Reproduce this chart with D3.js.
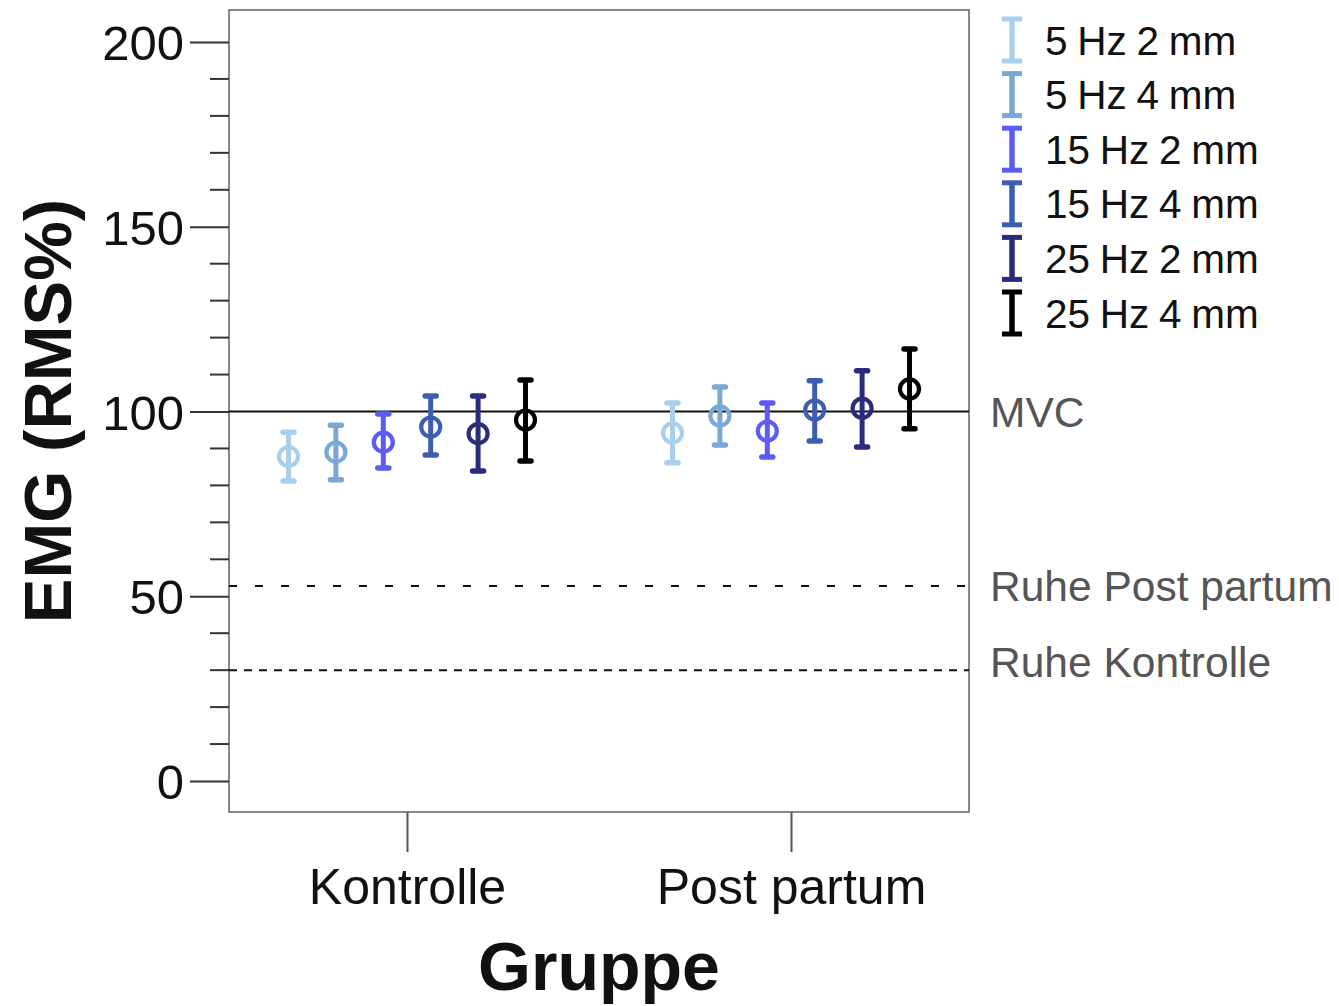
<!DOCTYPE html>
<html><head><meta charset="utf-8">
<script src="https://cdn.jsdelivr.net/npm/d3@7"></script>
<style>body{margin:0;background:#fff}svg{display:block}svg text{font-family:Arial,"Liberation Sans",sans-serif}</style>
</head><body><svg id="c" width="1339" height="1006"></svg>
<script>
const groups = ["Kontrolle", "Post partum"];
const series = ["5 Hz 2 mm", "5 Hz 4 mm", "15 Hz 2 mm", "15 Hz 4 mm", "25 Hz 2 mm", "25 Hz 4 mm"];
const colors = ["#a8d0ee", "#7aa8d6", "#5b5cf8", "#3b5eb2", "#292b7c", "#000000"];
const meanKontrolle  = [87.8, 89.0, 91.7, 95.8, 94.0, 97.7];
const upperKontrolle = [94.4, 96.3, 99.3, 104.2, 104.2, 108.5];
const lowerKontrolle = [81.2, 81.5, 84.7, 88.2, 83.9, 86.6];
const meanPost  = [94.2, 98.8, 94.7, 100.4, 100.9, 106.1];
const upperPost = [102.3, 106.6, 102.3, 108.3, 111.0, 116.9];
const lowerPost = [86.1, 90.9, 87.7, 92.0, 90.4, 95.3];
const yTicks = [0, 50, 100, 150, 200];
const refLines = [
  {label: "MVC", value: 100, dash: null},
  {label: "Ruhe Post partum", value: 52.8, dash: "8,18"},
  {label: "Ruhe Kontrolle", value: 30, dash: "8,7"}
];

const svg = d3.select("#c");
const FONT = 'Arial, "Liberation Sans", sans-serif';
const L = 229, R = 969, T = 10, B = 812;
const y = d3.scaleLinear().domain([0, 200]).range([781, 42]);
const x = d3.scalePoint().domain(groups).range([L, R]).padding(0.4635);
const xi = d3.scalePoint().domain(series).range([-118.5, 118.5]);

const data = [];
groups.forEach((g, gi) => {
  const m = gi === 0 ? meanKontrolle : meanPost;
  const u = gi === 0 ? upperKontrolle : upperPost;
  const lo = gi === 0 ? lowerKontrolle : lowerPost;
  series.forEach((s, si) => data.push({g, s, c: colors[si], m: m[si], u: u[si], l: lo[si]}));
});

// frame
svg.append("rect").attr("x", L).attr("y", T).attr("width", R - L).attr("height", B - T)
  .attr("fill", "none").attr("stroke", "#6a6a6a").attr("stroke-width", 1.6);

// y axis
const yAxis = d3.axisLeft(y).tickValues(yTicks).tickSize(39).tickPadding(6).tickFormat(d3.format("d"));
const gy = svg.append("g").attr("transform", `translate(${L},0)`).call(yAxis).attr("font-family", FONT);
gy.select(".domain").remove();
gy.selectAll(".tick line").attr("stroke", "#333").attr("stroke-width", 2);
gy.selectAll(".tick text").attr("font-size", 49).attr("fill", "#111").attr("dy", "0.36em");
const minor = d3.range(0, 201, 10).filter(v => v % 50 !== 0);
svg.append("g").selectAll("line").data(minor).join("line")
  .attr("x1", L - 19).attr("x2", L).attr("y1", d => y(d)).attr("y2", d => y(d))
  .attr("stroke", "#333").attr("stroke-width", 2);

// x axis
const xAxis = d3.axisBottom(x).tickSize(40).tickPadding(16);
const gx = svg.append("g").attr("transform", `translate(0,${B})`).call(xAxis).attr("font-family", FONT);
gx.select(".domain").remove();
gx.selectAll(".tick line").attr("stroke", "#555").attr("stroke-width", 2);
gx.selectAll(".tick text").attr("font-size", 50).attr("fill", "#111");

// reference lines
refLines.forEach((r, i) => {
  svg.append("line").attr("x1", L).attr("x2", R).attr("y1", y(r.value)).attr("y2", y(r.value))
    .attr("stroke", "#111").attr("stroke-width", 2).attr("stroke-dasharray", r.dash);
  svg.append("text").attr("x", 990).attr("y", y(r.value) + (i === 2 ? -8 : 0)).attr("dy", "0.36em")
    .attr("font-size", 42.5).attr("fill", "#555").text(r.label);
});

// error bars
const eb = svg.append("g").selectAll("g").data(data).join("g")
  .attr("transform", d => `translate(${x(d.g) + xi(d.s)},0)`);
eb.append("line").attr("y1", d => y(d.u)).attr("y2", d => y(d.l))
  .attr("stroke", d => d.c).attr("stroke-width", 5);
eb.append("line").attr("x1", -5.5).attr("x2", 5.5).attr("y1", d => y(d.u)).attr("y2", d => y(d.u))
  .attr("stroke", d => d.c).attr("stroke-width", 5.5).attr("stroke-linecap", "round");
eb.append("line").attr("x1", -5.5).attr("x2", 5.5).attr("y1", d => y(d.l)).attr("y2", d => y(d.l))
  .attr("stroke", d => d.c).attr("stroke-width", 5.5).attr("stroke-linecap", "round");
eb.append("circle").attr("cy", d => y(d.m)).attr("r", 9.5)
  .attr("fill", "none").attr("stroke", d => d.c).attr("stroke-width", 4.2);

// legend
const lg = svg.append("g").selectAll("g").data(series).join("g")
  .attr("transform", (d, i) => `translate(1012,${40 + i * 54.6})`);
lg.append("line").attr("y1", -21).attr("y2", 21).attr("stroke", (d, i) => colors[i]).attr("stroke-width", 5.5);
lg.append("line").attr("x1", -10).attr("x2", 10).attr("y1", -21).attr("y2", -21).attr("stroke", (d, i) => colors[i]).attr("stroke-width", 5);
lg.append("line").attr("x1", -10).attr("x2", 10).attr("y1", 21).attr("y2", 21).attr("stroke", (d, i) => colors[i]).attr("stroke-width", 5);
lg.append("text").attr("x", 33).attr("dy", "0.36em").attr("font-size", 40.5).attr("fill", "#111")
  .attr("word-spacing", "-1.5").text(d => d);

// axis titles
svg.append("text").attr("x", (L + R) / 2).attr("y", 990).attr("text-anchor", "middle")
  .attr("font-size", 68).attr("font-weight", "bold").attr("fill", "#111").text("Gruppe");
svg.append("text").attr("transform", "translate(71,411) rotate(-90)").attr("text-anchor", "middle")
  .attr("font-size", 67).attr("font-weight", "bold").attr("fill", "#111").text("EMG (RMS%)");
</script></body></html>
